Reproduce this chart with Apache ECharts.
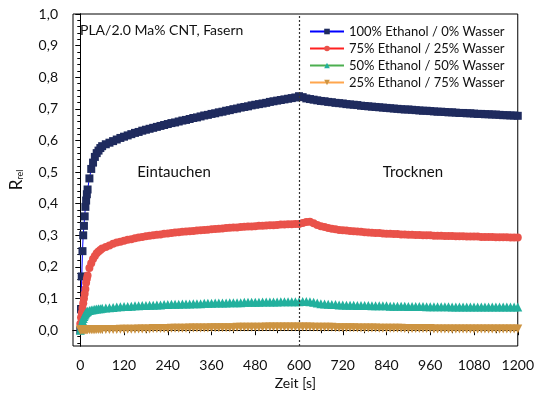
<!DOCTYPE html>
<html>
<head>
<meta charset="utf-8">
<script src="https://cdn.jsdelivr.net/npm/echarts@6/dist/echarts.min.js"></script>
<style>html,body{margin:0;padding:0;background:#fff}#c{width:537px;height:400px}</style>
</head>
<body>
<div id="c"></div>
<script>
// Time [s]
const times = [
  0,2,4,6,8,10,12,14,16,18,
  20,25,30,35,40,45,50,55,60,
  70,80,90,100,110,120,130,140,150,160,
  170,180,190,200,210,220,230,240,250,260,
  270,280,290,300,310,320,330,340,350,360,
  370,380,390,400,410,420,430,440,450,460,
  470,480,490,500,510,520,530,540,550,560,
  570,580,590,600,610,620,630,640,650,660,
  670,680,690,700,710,720,730,740,750,760,
  770,780,790,800,810,820,830,840,850,860,
  870,880,890,900,910,920,930,940,950,960,
  970,980,990,1000,1010,1020,1030,1040,1050,1060,
  1070,1080,1090,1100,1110,1120,1130,1140,1150,1160,
  1170,1180,1190,1200
];
const eth100 = [
  0.000,0.066,0.170,0.250,0.300,0.330,0.360,0.390,0.410,0.430,
  0.445,0.480,0.510,0.530,0.548,0.560,0.568,0.576,0.582,
  0.588,0.593,0.598,0.603,0.608,0.612,0.616,0.620,0.624,0.627,
  0.631,0.634,0.637,0.640,0.643,0.646,0.649,0.652,0.655,0.657,
  0.660,0.663,0.665,0.668,0.671,0.673,0.676,0.679,0.681,0.684,
  0.686,0.689,0.691,0.694,0.696,0.699,0.701,0.704,0.706,0.708,
  0.711,0.713,0.715,0.717,0.719,0.722,0.724,0.726,0.728,0.730,
  0.732,0.734,0.736,0.740,0.737,0.733,0.731,0.729,0.727,0.725,
  0.724,0.722,0.721,0.719,0.718,0.717,0.715,0.714,0.713,0.712,
  0.710,0.709,0.708,0.707,0.706,0.705,0.704,0.703,0.702,0.701,
  0.700,0.699,0.698,0.698,0.697,0.696,0.695,0.694,0.694,0.693,
  0.692,0.691,0.691,0.690,0.689,0.689,0.688,0.687,0.687,0.686,
  0.686,0.685,0.684,0.684,0.683,0.683,0.682,0.682,0.681,0.680,
  0.680,0.679,0.679,0.678
];
const eth75 = [
  0.020,0.040,0.055,0.070,0.085,0.100,0.115,0.130,0.150,0.163,
  0.173,0.197,0.212,0.225,0.235,0.243,0.249,0.254,0.258,
  0.263,0.268,0.273,0.277,0.280,0.283,0.286,0.288,0.291,0.293,
  0.295,0.297,0.299,0.300,0.302,0.303,0.305,0.306,0.307,0.309,
  0.310,0.311,0.312,0.313,0.314,0.315,0.316,0.317,0.318,0.319,
  0.320,0.321,0.322,0.323,0.324,0.325,0.325,0.326,0.327,0.328,
  0.328,0.329,0.330,0.330,0.331,0.332,0.332,0.333,0.334,0.334,
  0.335,0.335,0.336,0.336,0.339,0.342,0.343,0.338,0.333,0.329,
  0.326,0.323,0.321,0.319,0.317,0.316,0.315,0.314,0.313,0.312,
  0.311,0.310,0.309,0.308,0.307,0.307,0.306,0.305,0.305,0.304,
  0.304,0.303,0.303,0.302,0.302,0.301,0.301,0.300,0.300,0.300,
  0.299,0.299,0.299,0.298,0.298,0.298,0.297,0.297,0.297,0.296,
  0.296,0.296,0.296,0.295,0.295,0.295,0.295,0.294,0.294,0.294,
  0.294,0.293,0.293,0.293
];
const eth50 = [
  0.000,0.010,0.020,0.030,0.037,0.043,0.048,0.052,0.056,0.058,
  0.060,0.062,0.064,0.065,0.066,0.067,0.068,0.068,0.069,
  0.070,0.071,0.072,0.073,0.074,0.075,0.075,0.076,0.077,0.077,
  0.078,0.078,0.079,0.079,0.080,0.080,0.081,0.081,0.082,0.082,
  0.082,0.083,0.083,0.083,0.084,0.084,0.084,0.085,0.085,0.085,
  0.086,0.086,0.086,0.086,0.087,0.087,0.087,0.087,0.088,0.088,
  0.088,0.088,0.088,0.089,0.089,0.089,0.089,0.089,0.090,0.090,
  0.090,0.090,0.090,0.090,0.091,0.091,0.090,0.088,0.086,0.084,
  0.083,0.082,0.081,0.081,0.080,0.080,0.079,0.079,0.079,0.078,
  0.078,0.078,0.078,0.077,0.077,0.077,0.077,0.077,0.076,0.076,
  0.076,0.076,0.076,0.075,0.075,0.075,0.075,0.075,0.074,0.074,
  0.074,0.074,0.074,0.074,0.074,0.073,0.073,0.073,0.073,0.073,
  0.073,0.073,0.073,0.073,0.073,0.073,0.073,0.073,0.073,0.073,
  0.073,0.073,0.073,0.073
];
const eth25 = [
  0.000,0.001,0.001,0.001,0.001,0.001,0.001,0.001,0.001,0.001,
  0.001,0.001,0.001,0.001,0.001,0.002,0.002,0.002,0.002,
  0.002,0.002,0.002,0.002,0.003,0.003,0.003,0.003,0.003,0.004,
  0.004,0.004,0.004,0.005,0.005,0.005,0.005,0.005,0.006,0.006,
  0.006,0.006,0.006,0.007,0.007,0.007,0.007,0.007,0.007,0.008,
  0.008,0.008,0.008,0.008,0.008,0.008,0.009,0.009,0.009,0.009,
  0.009,0.009,0.009,0.009,0.010,0.010,0.010,0.010,0.010,0.010,
  0.010,0.010,0.010,0.010,0.010,0.010,0.010,0.009,0.009,0.009,
  0.009,0.009,0.009,0.008,0.008,0.008,0.008,0.008,0.008,0.007,
  0.007,0.007,0.007,0.007,0.007,0.006,0.006,0.006,0.006,0.006,
  0.006,0.006,0.005,0.005,0.005,0.005,0.005,0.005,0.005,0.005,
  0.004,0.004,0.004,0.004,0.004,0.004,0.004,0.004,0.004,0.004,
  0.004,0.004,0.004,0.004,0.004,0.004,0.004,0.004,0.004,0.004,
  0.004,0.004,0.004,0.004
];
const seriesNames = ['100% Ethanol / 0% Wasser','75% Ethanol / 25% Wasser','50% Ethanol / 50% Wasser','25% Ethanol / 75% Wasser'];
const xTicks = [0,120,240,360,480,600,720,840,960,1080,1200];
const xMinorTicks = [60,180,300,420,540,660,780,900,1020,1140];
const yTicks = [0,0.1,0.2,0.3,0.4,0.5,0.6,0.7,0.8,0.9,1.0];
const yMinorTicks = [-0.04,-0.02,0.02,0.04,0.06,0.08,0.12,0.14,0.16,0.18,0.22,0.24,0.26,0.28,0.32,0.34,0.36,0.38,0.42,0.44,0.46,0.48,0.52,0.54,0.56,0.58,0.62,0.64,0.66,0.68,0.72,0.74,0.76,0.78,0.82,0.84,0.86,0.88,0.92,0.94,0.96,0.98];
const switchTime = 600;

const FONT = 'Lato';
const pair = arr => times.map((t, i) => [t, arr[i]]);

const chart = echarts.init(document.getElementById('c'), null, {renderer: 'canvas'});
const markerColors = ['#1f2b5e', '#e9524a', '#22b09d', '#cd9442'];
const lineColors = ['#0000ff', '#ff2020', '#4caf50', '#ffa64d'];
const symbols = ['rect', 'circle', 'triangle', 'triangle'];
const symbolRot = [0, 0, 0, 180];
const symbolSizes = [8, 8, 9, 9];
const allData = [eth100, eth75, eth50, eth25];

const series = allData.map((d, i) => ({
  name: seriesNames[i],
  type: 'line',
  xAxisIndex: 0, yAxisIndex: 0,
  data: pair(d),
  symbol: symbols[i],
  symbolRotate: symbolRot[i],
  symbolSize: symbolSizes[i],
  showSymbol: true,
  showAllSymbol: true,
  lineStyle: {color: lineColors[i], width: 1},
  itemStyle: {color: markerColors[i], borderWidth: 0},
  animation: false,
  silent: true,
  z: 2 + i
}));
series[0].markLine = {
  silent: true,
  symbol: ['none', 'none'],
  label: {show: false},
  lineStyle: {type: [2, 2], color: '#333', width: 1.2},
  data: [{xAxis: switchTime}],
  animation: false
};

const axisCommon = {
  axisLine: {show: true, lineStyle: {color: '#000', width: 1}},
  splitLine: {show: false}
};

chart.setOption({
  animation: false,
  backgroundColor: '#fff',
  textStyle: {fontFamily: FONT},
  grid: {left: 71, right: 13, top: 14, bottom: 54, show: true, borderColor: '#000', borderWidth: 1, backgroundColor: 'transparent'},
  legend: {
    orient: 'vertical', left: 304, top: 20,
    itemWidth: 34, itemHeight: 7, itemGap: 4,
    textStyle: {fontFamily: FONT, fontSize: 13, color: '#111'},
    data: seriesNames,
    selectedMode: false
  },
  xAxis: [
    Object.assign({}, axisCommon, {
      type: 'value', min: -20, max: 1200,
      name: 'Zeit [s]', nameLocation: 'middle', nameGap: 30,
      nameTextStyle: {fontFamily: FONT, fontSize: 14, color: '#111'},
      axisTick: {show: true, inside: false, length: 5, customValues: xTicks, lineStyle: {color: '#000'}},
      axisLabel: {customValues: xTicks, margin: 12, fontFamily: FONT, fontSize: 14, color: '#111',
        formatter: v => String(v)}
    }),
    Object.assign({}, axisCommon, {
      type: 'value', min: -20, max: 1200, position: 'bottom',
      axisTick: {show: true, inside: false, length: 3, customValues: xMinorTicks, lineStyle: {color: '#000'}},
      axisLabel: {show: false}
    })
  ],
  yAxis: [
    Object.assign({}, axisCommon, {
      type: 'value', min: -0.05, max: 1.0,
      name: '{r|R}{s|rel}', nameLocation: 'middle', nameGap: 48, nameRotate: 90,
      nameTextStyle: {rich: {r: {fontFamily: FONT, fontSize: 17, color: '#111'}, s: {fontFamily: FONT, fontSize: 9, color: '#111', verticalAlign: 'bottom', padding: [8, 0, 0, 0]}}},
      axisTick: {show: true, inside: false, length: 5, customValues: yTicks, lineStyle: {color: '#000'}},
      axisLabel: {customValues: yTicks, margin: 15, fontFamily: FONT, fontSize: 14, color: '#111',
        formatter: v => v.toFixed(1).replace('.', ',')}
    }),
    Object.assign({}, axisCommon, {
      type: 'value', min: -0.05, max: 1.0, position: 'left',
      axisTick: {show: true, inside: false, length: 3, customValues: yMinorTicks, lineStyle: {color: '#000'}},
      axisLabel: {show: false}
    })
  ],
  graphic: [
    {type: 'text', left: 80, top: 23, silent: true,
      style: {text: 'PLA/2.0 Ma% CNT, Fasern', font: '14px ' + FONT, fill: '#111'}},
    {type: 'text', x: 174, y: 172, silent: true,
      style: {text: 'Eintauchen', font: '15px ' + FONT, fill: '#111', align: 'center', verticalAlign: 'middle'}},
    {type: 'text', x: 413, y: 172, silent: true,
      style: {text: 'Trocknen', font: '15px ' + FONT, fill: '#111', align: 'center', verticalAlign: 'middle'}}
  ],
  series: series
});
</script>
</body>
</html>
